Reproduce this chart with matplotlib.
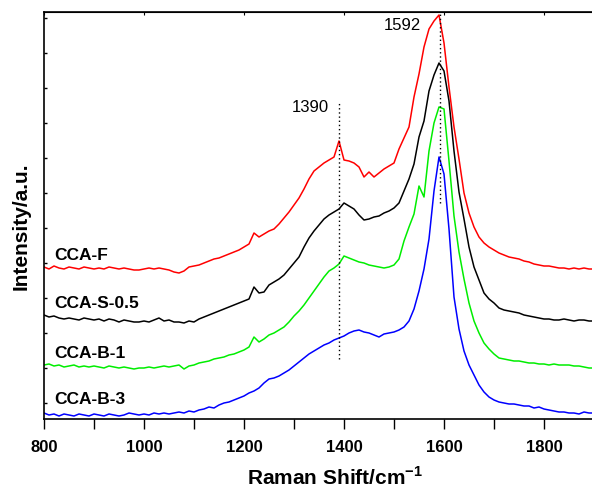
import matplotlib
matplotlib.use("Agg")
import matplotlib.pyplot as plt

plt.rcParams['font.family'] = ['Liberation Sans', 'DejaVu Sans']
plt.rcParams['mathtext.fontset'] = 'custom'
plt.rcParams['mathtext.rm'] = 'Liberation Sans'
plt.rcParams['mathtext.bf'] = 'Liberation Sans:bold'

# Raman shift grid (cm^-1)
shift = list(range(800, 1901, 10))

# intensities (arbitrary units, already vertically stacked)
cca_b3 = [6, 4, 5, 3, 5, 4, 3, 5, 4, 3, 5, 4, 3, 5, 4, 3, 4, 6, 5, 4,
          5, 4, 6, 5, 6, 5, 6, 7, 6, 8, 7, 9, 10, 12, 11, 14, 16, 17, 19, 21,
          23, 26, 28, 31, 36, 40, 41, 43, 46, 49, 53, 57, 61, 65, 68, 71, 74, 76, 79, 81,
          83, 86, 88, 89, 87, 86, 84, 82, 85, 86, 87, 89, 92, 98, 110, 128, 150, 180, 228, 262,
          245, 190, 122, 90, 68, 54, 44, 34, 27, 22, 19, 17, 16, 15, 15, 14, 13, 13, 11, 12,
          10, 9, 8, 7, 7, 6, 6, 5, 7, 6, 6]
cca_b1 = [54, 55, 53, 54, 52, 53, 54, 52, 53, 52, 53, 52, 51, 53, 52, 51, 52, 51, 50, 51,
          51, 52, 51, 52, 53, 52, 53, 54, 50, 53, 54, 56, 57, 58, 60, 61, 62, 64, 65, 67,
          69, 72, 82, 77, 80, 84, 86, 89, 92, 97, 103, 108, 114, 121, 128, 135, 142, 148, 151, 155,
          163, 161, 159, 157, 156, 154, 153, 152, 151, 152, 154, 160, 178, 192, 205, 233, 222, 268, 296, 312,
          310, 258, 203, 167, 140, 116, 98, 86, 76, 70, 65, 61, 60, 59, 58, 58, 57, 56, 56, 55,
          55, 54, 55, 54, 54, 54, 53, 53, 52, 51, 51]
cca_s05 = [104, 102, 103, 101, 100, 101, 100, 99, 101, 100, 99, 100, 98, 100, 99, 97, 99, 98, 97, 97,
           98, 97, 99, 101, 98, 99, 97, 97, 96, 98, 97, 100, 102, 104, 106, 108, 110, 112, 114, 116,
           118, 120, 132, 126, 127, 134, 137, 140, 144, 150, 156, 162, 172, 181, 188, 194, 200, 204, 207, 210,
           216, 213, 210, 204, 199, 200, 202, 203, 206, 208, 211, 216, 228, 240, 255, 282, 298, 328, 344, 356,
           348, 318, 268, 227, 200, 172, 152, 139, 126, 120, 116, 111, 109, 108, 107, 106, 104, 103, 102, 101,
           100, 100, 99, 99, 100, 99, 98, 99, 99, 98, 98]
cca_f = [152, 150, 153, 151, 150, 152, 151, 150, 152, 151, 150, 151, 150, 152, 151, 150, 151, 150, 149, 149,
         150, 151, 150, 151, 150, 149, 147, 146, 148, 152, 153, 154, 156, 158, 160, 161, 163, 165, 167, 169,
         172, 175, 186, 182, 185, 188, 190, 195, 201, 207, 214, 221, 230, 240, 248, 252, 256, 259, 262, 278,
         259, 258, 256, 252, 242, 247, 242, 246, 250, 253, 256, 270, 281, 292, 322, 345, 372, 390, 398, 404,
         376, 332, 292, 260, 226, 206, 192, 182, 176, 172, 169, 166, 164, 162, 161, 160, 158, 157, 155, 154,
         153, 153, 152, 151, 151, 150, 151, 150, 151, 150, 150]

names = ['CCA-F', 'CCA-S-0.5', 'CCA-B-1', 'CCA-B-3']
series = [cca_f, cca_s05, cca_b1, cca_b3]
colors = ['#ff0000', '#000000', '#00ee00', '#0000ff']
label_y = [164, 116, 66, 19]

peaks = [1390, 1592]
peak_spans = [(60, 318), (216, 406)]
peak_text_pos = [(1332, 311), (1516, 393)]

x_ticks = [800, 1000, 1200, 1400, 1600, 1800]
y_ticks = [15.7, 50.7, 85.7, 120.7, 155.7, 190.7, 225.7, 260.7, 295.7, 330.7, 365.7, 400.7]

fig = plt.figure(figsize=(5.92, 4.88), dpi=100)
ax = fig.add_axes([44 / 592, 69 / 488, 550 / 592, 407 / 488])

for ys, c in zip(series, colors):
    ax.plot(shift, ys, color=c, lw=1.1)

for p, (y0, y1) in zip(peaks, peak_spans):
    ax.vlines(p, y0, y1, colors='black', linestyles=(0, (1, 2)), lw=1.0)

for p, (tx, ty) in zip(peaks, peak_text_pos):
    ax.text(tx, ty, str(p), fontsize=12, ha='center', va='center')

for n, ly in zip(names, label_y):
    ax.text(820, ly, n, fontsize=12.5, fontweight='bold', ha='left', va='center')

ax.set_xlim(800, 1900)
ax.set_ylim(0, 407)
ax.set_xticks(x_ticks)
ax.set_xticks(list(range(900, 1900, 200)), minor=True)
ax.set_yticks(y_ticks)
ax.set_yticklabels([])
ax.tick_params(axis='x', which='both', direction='out', length=7, width=1,
               bottom=True, top=False, labelsize=12, pad=8)
ax.tick_params(axis='y', which='both', direction='in', length=2.5, width=1, left=True, right=False)
ax.secondary_xaxis('top').tick_params(axis='x', which='both', direction='in', length=2.5,
                                       labeltop=False)
sec = ax.get_children()
for lab in ax.get_xticklabels():
    lab.set_fontweight('bold')
for s in ax.spines.values():
    s.set_linewidth(1.2)

ax.set_xlabel(r'Raman Shift/cm$^{\mathbf{-1}}$', fontsize=15, fontweight='bold', va='baseline')
ax.xaxis.set_label_coords((335 - 44) / 550, -(485 - 419) / 407)
ax.set_ylabel('Intensity/a.u.', fontsize=15, fontweight='bold')
ax.yaxis.set_label_coords(-(44 - 31) / 550, (419 - 226) / 407)

fig.savefig('out.png', dpi=100)
